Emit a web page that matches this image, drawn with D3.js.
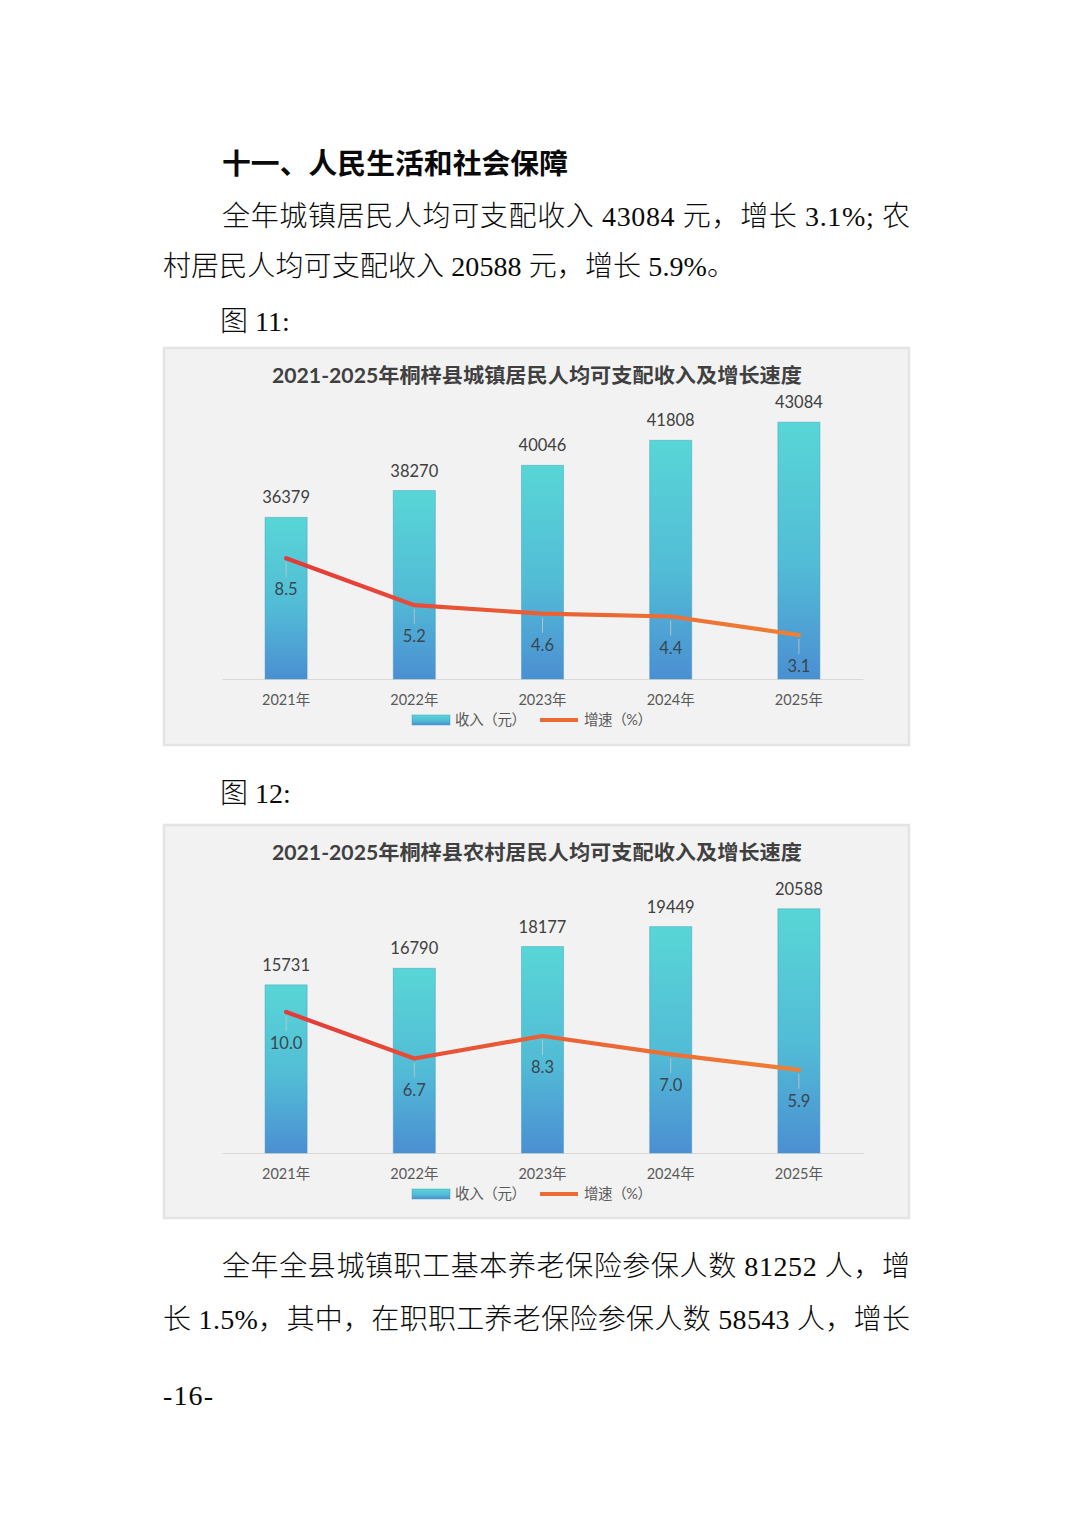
<!DOCTYPE html>
<html>
<head>
<meta charset="utf-8">
<script src="https://cdn.jsdelivr.net/npm/d3@7"></script>
<style>
  html, body { margin: 0; padding: 0; background: #ffffff; }
  svg { display: block; }
</style>
</head>
<body>
<script>
// ---------------- data ----------------
const years = ["2021年", "2022年", "2023年", "2024年", "2025年"];
const urbanIncome = [36379, 38270, 40046, 41808, 43084];
const urbanGrowth = [8.5, 5.2, 4.6, 4.4, 3.1];
const ruralIncome = [15731, 16790, 18177, 19449, 20588];
const ruralGrowth = [10.0, 6.7, 8.3, 7.0, 5.9];
const urbanIncomeDomain = [25000, 45000];
const ruralIncomeDomain = [5000, 23000];
const growthDomain = [0, 20];
const urbanTitle = "2021-2025年桐梓县城镇居民人均可支配收入及增长速度";
const ruralTitle = "2021-2025年桐梓县农村居民人均可支配收入及增长速度";
const legendLabels = ["收入（元）", "增速（%）"];

const heading = "十一、人民生活和社会保障";
const para1 = ["全年城镇居民人均可支配收入 43084 元，增长 3.1%; 农",
               "村居民人均可支配收入 20588 元，增长 5.9%。"];
const fig11 = "图 11:";
const fig12 = "图 12:";
const para2 = ["全年全县城镇职工基本养老保险参保人数 81252 人，增",
               "长 1.5%，其中，在职职工养老保险参保人数 58543 人，增长"];
const pageNo = "-16-";

// ---------------- page ----------------
const W = 1074, H = 1520;
const svg = d3.select("body").append("svg").attr("width", W).attr("height", H);
svg.append("rect").attr("width", W).attr("height", H).attr("fill", "#ffffff");

const defs = svg.append("defs");
const bg = defs.append("linearGradient").attr("id", "barGrad")
  .attr("x1", 0).attr("y1", 0).attr("x2", 0).attr("y2", 1);
bg.append("stop").attr("offset", "0%").attr("stop-color", "#58d6d6");
bg.append("stop").attr("offset", "55%").attr("stop-color", "#52bcd6");
bg.append("stop").attr("offset", "100%").attr("stop-color", "#4b8fd2");

const bodyFont = "'Liberation Serif', 'Noto Sans CJK SC', serif";
const cjkSans = "'Noto Sans CJK SC', sans-serif";
const chartFont = "Lato, 'Noto Sans CJK SC', sans-serif";

function bodyLine(txt, x, y, len, opts = {}) {
  const t = svg.append("text").attr("x", x).attr("y", y)
    .attr("font-family", opts.family || bodyFont)
    .attr("font-size", opts.size || 28)
    .attr("font-weight", opts.weight || 300)
    .attr("fill", "#0a0a0a")
    .text(txt);
  if (len) t.attr("textLength", len).attr("lengthAdjust", "spacing");
  return t;
}

bodyLine(heading, 222, 174, 346, { family: cjkSans, size: 28.8, weight: 700 });
bodyLine(para1[0], 222, 226, 688);
bodyLine(para1[1], 163, 276, 572);
bodyLine(fig11, 220, 331, null);
bodyLine(fig12, 220, 803, null);
bodyLine(para2[0], 222, 1276, 688);
bodyLine(para2[1], 163, 1329, 747);
bodyLine(pageNo, 163, 1405, 50);

// ---------------- charts ----------------
const charts = [
  { id: "u", title: urbanTitle, income: urbanIncome, growth: urbanGrowth, incomeDomain: urbanIncomeDomain,
    box: [347, 746], plotTop: 395, base: 679 },
  { id: "r", title: ruralTitle, income: ruralIncome, growth: ruralGrowth, incomeDomain: ruralIncomeDomain,
    box: [824, 1219], plotTop: 871, base: 1153 }
];

const x = d3.scaleBand().domain(years).range([222, 863]).paddingInner(0.672).paddingOuter(0.336);
const cx = d => x(d) + x.bandwidth() / 2;

charts.forEach(c => {
  const g = svg.append("g");
  // background box
  g.append("rect").attr("x", 164).attr("y", c.box[0] + 1)
    .attr("width", 745).attr("height", c.box[1] - c.box[0] - 2)
    .attr("fill", "#f2f2f2").attr("stroke", "#e4e4e4").attr("stroke-width", 2.5);

  const yL = d3.scaleLinear().domain(c.incomeDomain).range([c.base, c.plotTop]);
  const yR = d3.scaleLinear().domain(growthDomain).range([c.base, c.plotTop]);

  // title
  g.append("text").attr("x", 537).attr("y", c.box[0] + 36)
    .attr("text-anchor", "middle")
    .attr("font-family", chartFont).attr("font-weight", 700).attr("font-size", 20)
    .attr("fill", "#404040")
    .attr("textLength", 530).attr("lengthAdjust", "spacingAndGlyphs")
    .text(c.title);

  // x axis
  const ax = g.append("g").attr("transform", `translate(0,${c.base})`)
    .call(d3.axisBottom(x).tickSize(0).tickSizeOuter(0).tickPadding(16));
  ax.select(".domain").attr("stroke", "#d9d9d9").attr("stroke-width", 1.2);
  ax.selectAll("text").attr("font-family", chartFont).attr("font-size", 14.5).attr("fill", "#595959");

  // bars
  const data = years.map((yr, i) => ({ yr, inc: c.income[i], gr: c.growth[i] }));
  g.selectAll("rect.bar").data(data).enter().append("rect").attr("class", "bar")
    .attr("x", d => x(d.yr)).attr("width", x.bandwidth())
    .attr("y", d => yL(d.inc)).attr("height", d => c.base - yL(d.inc))
    .attr("fill", "url(#barGrad)")
    .attr("stroke", "rgba(60,150,190,0.45)").attr("stroke-width", 1);

  g.selectAll("text.barlab").data(data).enter().append("text").attr("class", "barlab")
    .attr("x", d => cx(d.yr)).attr("y", d => yL(d.inc) - 14)
    .attr("text-anchor", "middle")
    .attr("font-family", chartFont).attr("font-size", 16.5).attr("fill", "#404040")
    .text(d => d.inc);

  // line gradient
  const lg = defs.append("linearGradient").attr("id", "lineGrad" + c.id)
    .attr("gradientUnits", "userSpaceOnUse")
    .attr("x1", cx(years[0])).attr("y1", 0).attr("x2", cx(years[years.length - 1])).attr("y2", 0);
  lg.append("stop").attr("offset", "0%").attr("stop-color", "#e3393a");
  lg.append("stop").attr("offset", "45%").attr("stop-color", "#ea5c35");
  lg.append("stop").attr("offset", "100%").attr("stop-color", "#ef8034");

  // leader lines
  g.selectAll("line.lead").data(data).enter().append("line").attr("class", "lead")
    .attr("x1", d => cx(d.yr)).attr("x2", d => cx(d.yr))
    .attr("y1", d => yR(d.gr) + 4).attr("y2", d => yR(d.gr) + 19)
    .attr("stroke", "#c9c9c9").attr("stroke-width", 1).attr("opacity", 0.8);

  g.append("path").datum(data)
    .attr("d", d3.line().x(d => cx(d.yr)).y(d => yR(d.gr)))
    .attr("fill", "none").attr("stroke", `url(#lineGrad${c.id})`)
    .attr("stroke-width", 4.2).attr("stroke-linejoin", "round").attr("stroke-linecap", "round");

  g.selectAll("text.grlab").data(data).enter().append("text").attr("class", "grlab")
    .attr("x", d => cx(d.yr)).attr("y", d => yR(d.gr) + 37)
    .attr("text-anchor", "middle")
    .attr("font-family", chartFont).attr("font-size", 16.5).attr("fill", "#3a4650")
    .text(d => d3.format(".1f")(d.gr));

  // legend
  const ly = c.base + 41;
  g.append("rect").attr("x", 412).attr("y", ly - 5).attr("width", 38).attr("height", 10)
    .attr("fill", "url(#barGrad)").attr("stroke", "rgba(60,150,190,0.45)").attr("stroke-width", 1);
  g.append("text").attr("x", 455).attr("y", ly + 5)
    .attr("font-family", chartFont).attr("font-size", 14.5).attr("fill", "#595959")
    .attr("textLength", 71).attr("lengthAdjust", "spacing")
    .text(legendLabels[0]);
  g.append("line").attr("x1", 540).attr("x2", 578).attr("y1", ly).attr("y2", ly)
    .attr("stroke", "#ec6a33").attr("stroke-width", 4);
  g.append("text").attr("x", 584).attr("y", ly + 5)
    .attr("font-family", chartFont).attr("font-size", 14.5).attr("fill", "#595959")
    .attr("textLength", 68).attr("lengthAdjust", "spacing")
    .text(legendLabels[1]);
});
</script>
</body>
</html>
